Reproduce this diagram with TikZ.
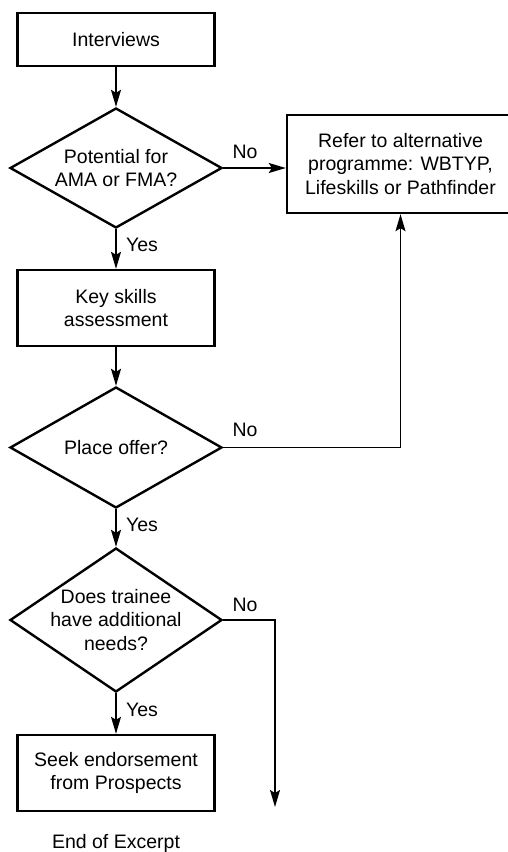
\documentclass[tikz,border=0pt]{standalone}
\usepackage{fontspec}
\setmainfont{Liberation Sans}
\usetikzlibrary{shapes.geometric,arrows.meta}

\begin{document}
\begin{tikzpicture}[x=1pt,y=-1pt,
  every node/.style={font=\fontsize{19.5}{23.5}\selectfont, align=center},
  box/.style={draw, line width=2.4pt, rectangle, minimum width=197pt,
    minimum height=76pt, inner sep=0pt},
  decision/.style={draw, line width=2.4pt, diamond, minimum width=212pt,
    minimum height=#1, inner sep=-14pt},
  conn/.style={line width=1.4pt},
  arr/.style={conn, -{Stealth[length=17pt,width=10pt,inset=3pt]}},
  lbl/.style={inner sep=0pt}
]
\useasboundingbox (0,0) rectangle (508,852);
\clip (0,0) rectangle (508,852);

% process boxes and decisions
\node[box, minimum height=53pt] (interviews) at (116,39.5) {Interviews};
\node[decision=120pt] (potential) at (116,168) {Potential for\\AMA or FMA?};
\node[box, minimum width=227pt, minimum height=98pt] (refer) at (400.5,164)
  {Refer to alternative\\programme: WBTYP,\\Lifeskills or Pathfinder};
\node[box] (keyskills) at (116,308) {Key skills\\assessment};
\node[decision=121pt] (offer) at (116,447.5) {Place offer?};
\node[decision=144pt] (needs) at (116,620) {Does trainee\\have additional\\needs?};
\node[box] (seek) at (116,773) {Seek endorsement\\from Prospects};
\node (endtext) at (116,843) {End of Excerpt};
\coordinate (noend) at (275,807);

% main flow
\draw[arr] (interviews) -- (potential);
\draw[arr] (potential) -- (keyskills);
\draw[arr] (keyskills) -- (offer);
\draw[arr] (offer) -- (needs);
\draw[arr] (needs) -- (seek);

% side branches
\draw[arr] (potential.east) -- (potential.east -| refer.west);
\draw[arr] (offer.east) -| (refer.south);
\draw[arr] (needs.east) -| (noend);

% branch labels
\node[lbl] (no1) at (245,152) {No};
\node[lbl] (no2) at (245,430) {No};
\node[lbl] (no3) at (245,605) {No};
\node[lbl] (yes1) at (142,245) {Yes};
\node[lbl] (yes2) at (142,525) {Yes};
\node[lbl] (yes3) at (142,710) {Yes};
\end{tikzpicture}
\end{document}
